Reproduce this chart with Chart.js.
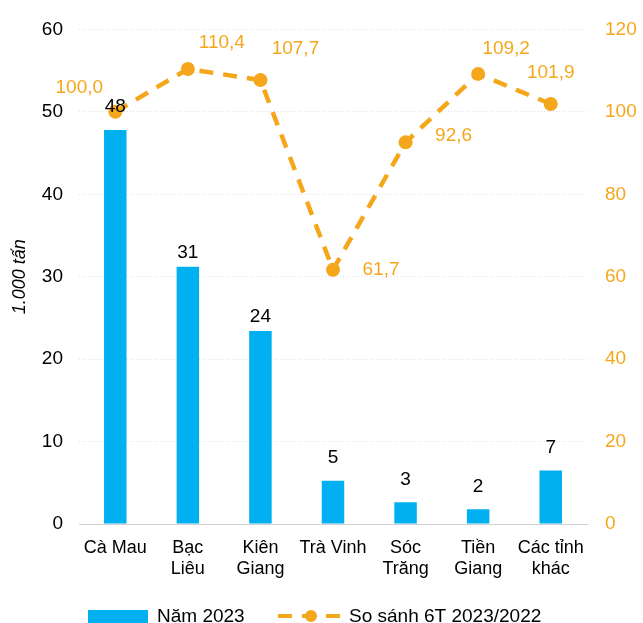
<!DOCTYPE html>
<html>
<head>
<meta charset="utf-8">
<script src="https://cdn.jsdelivr.net/npm/chart.js@4/dist/chart.umd.min.js"></script>
<style>
  html, body { margin: 0; padding: 0; background: #fff; }
  #wrap { width: 643px; height: 623px; position: relative; }
</style>
</head>
<body>
<div id="wrap"><canvas id="chart"></canvas></div>
<script>
// du lieu
const tinh = [['Cà Mau'], ['Bạc', 'Liêu'], ['Kiên', 'Giang'], ['Trà Vinh'], ['Sóc', 'Trăng'], ['Tiền', 'Giang'], ['Các tỉnh', 'khác']];
const nhanCot = ['48', '31', '24', '5', '3', '2', '7'];
const nam2023 = [47.8, 31.2, 23.4, 5.25, 2.65, 1.8, 6.5];
const soSanh = [100.0, 110.4, 107.7, 61.7, 92.6, 109.2, 101.9];
const nhanDuong = ['100,0', '110,4', '107,7', '61,7', '92,6', '109,2', '101,9'];

const mauCot = '#00B0F0';
const mauDuong = '#F5A71C';
const phong = '"Liberation Sans", Arial, sans-serif';

// vi tri nhan (dx, dy)
const lechCot = [23, 14, 14, 23, 22, 22, 23];
const lechNhan = [[-36, -24], [34, -26], [35, -31], [48, 0], [48, -7], [28, -25], [0, -31]];

const nhanPlugin = {
  id: 'nhan',
  afterDatasetsDraw(chart) {
    const ctx = chart.ctx;
    ctx.save();
    ctx.font = '19px ' + phong;
    ctx.textAlign = 'center';
    ctx.textBaseline = 'middle';
    // nhan cot
    const cot = chart.getDatasetMeta(0).data;
    ctx.fillStyle = '#000';
    cot.forEach((b, i) => {
      ctx.fillText(nhanCot[i], b.x, b.y - lechCot[i]);
    });
    // nhan duong
    const diem = chart.getDatasetMeta(1).data;
    ctx.fillStyle = mauDuong;
    diem.forEach((p, i) => {
      ctx.fillText(nhanDuong[i], p.x + lechNhan[i][0], p.y + lechNhan[i][1]);
    });
    ctx.restore();
  },
  afterDraw(chart) {
    // chu thich
    const ctx = chart.ctx;
    ctx.save();
    const y = 616;
    ctx.fillStyle = mauCot;
    ctx.fillRect(88, y - 6, 60, 14);
    ctx.font = '19px ' + phong;
    ctx.fillStyle = '#000';
    ctx.textBaseline = 'middle';
    ctx.fillText('Năm 2023', 157, y + 1);
    ctx.strokeStyle = mauDuong;
    ctx.lineWidth = 4;
    ctx.setLineDash([14, 10]);
    ctx.beginPath();
    ctx.moveTo(278, y);
    ctx.lineTo(344, y);
    ctx.stroke();
    ctx.setLineDash([]);
    ctx.fillStyle = mauDuong;
    ctx.beginPath();
    ctx.arc(311, y, 6, 0, Math.PI * 2);
    ctx.fill();
    ctx.fillStyle = '#000';
    ctx.fillText('So sánh 6T 2023/2022', 349, y + 1);
    ctx.restore();
  }
};

new Chart(document.getElementById('chart'), {
  type: 'bar',
  data: {
    labels: tinh,
    datasets: [{
      label: 'Năm 2023',
      data: nam2023,
      backgroundColor: mauCot,
      yAxisID: 'y',
      barPercentage: 0.31,
      categoryPercentage: 1,
      order: 2
    }, {
      type: 'line',
      label: 'So sánh 6T 2023/2022',
      data: soSanh,
      borderColor: mauDuong,
      backgroundColor: mauDuong,
      borderWidth: 4.5,
      borderDash: [14, 10],
      pointRadius: 7,
      pointBackgroundColor: mauDuong,
      pointBorderWidth: 0,
      yAxisID: 'y1',
      order: 1
    }]
  },
  options: {
    responsive: true,
    maintainAspectRatio: false,
    animation: false,
    layout: { padding: { top: 19, bottom: 39, left: 0, right: 0 } },
    plugins: {
      legend: { display: false },
      tooltip: { enabled: false }
    },
    scales: {
      x: {
        grid: { display: false, drawTicks: false },
        border: { color: '#d0d0d0', width: 1 },
        ticks: {
          color: '#000',
          font: { size: 18, family: phong, lineHeight: 1.2 },
          padding: 13,
          maxRotation: 0,
          autoSkip: false
        },
        afterFit: s => { s.height = 60; }
      },
      y: {
        position: 'left',
        min: 0, max: 60,
        ticks: {
          stepSize: 10,
          color: '#000',
          padding: 16,
          font: { size: 19, family: phong }
        },
        grid: { color: '#e2e2e2', drawTicks: false },
        border: { display: false, dash: [1, 2] },
        title: {
          display: true,
          text: '1.000 tấn',
          color: '#000',
          padding: { top: 9, bottom: 0 },
          font: { size: 18, style: 'italic', family: phong }
        },
        afterFit: s => { s.width = 79; }
      },
      y1: {
        position: 'right',
        min: 0, max: 120,
        ticks: {
          stepSize: 20,
          color: mauDuong,
          padding: 18,
          font: { size: 19, family: phong }
        },
        grid: { display: false, drawTicks: false },
        border: { display: false },
        afterFit: s => { s.width = 56; }
      }
    }
  },
  plugins: [nhanPlugin]
});
</script>
</body>
</html>
